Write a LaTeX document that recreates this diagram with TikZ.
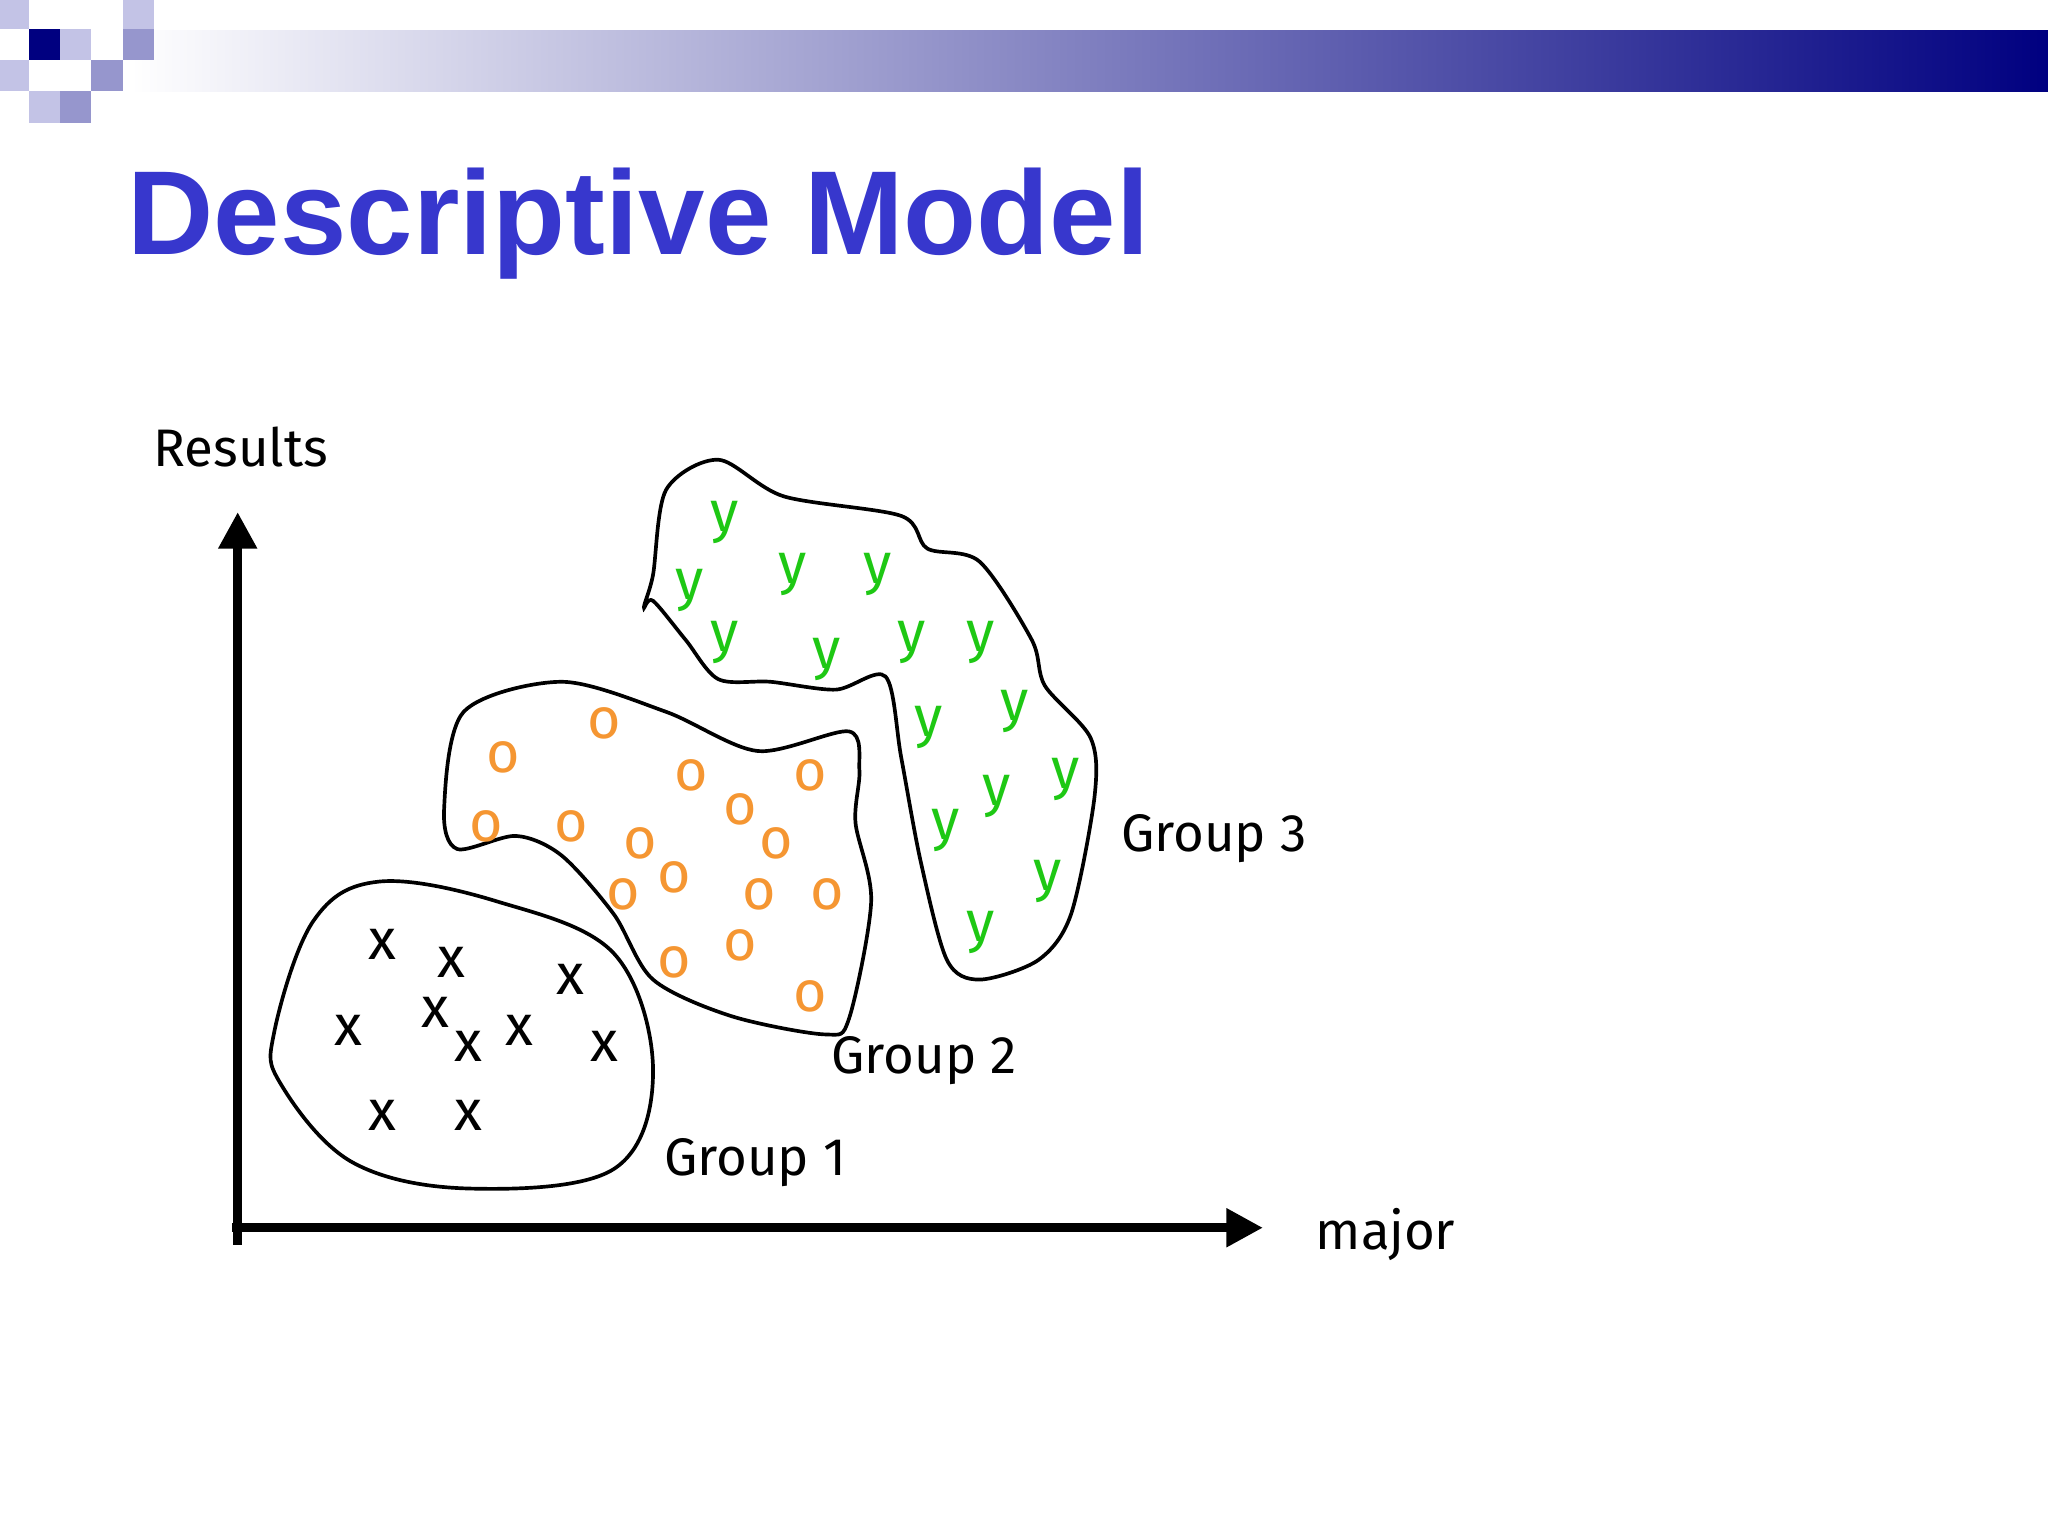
\documentclass[tikz,border=0pt]{standalone}
\usepackage{fontspec}
\setmainfont{Liberation Sans}
\newfontfamily\hand{Fira Sans}
\usetikzlibrary{arrows.meta}
\definecolor{navy}{RGB}{0,0,128}
\definecolor{lav}{RGB}{150,150,205}
\definecolor{lav2}{RGB}{195,195,230}
\definecolor{titleblue}{RGB}{55,55,205}
\definecolor{ocol}{RGB}{245,150,50}
\definecolor{ycol}{RGB}{30,200,20}
\tikzset{
  hw/.style={font=\hand\fontsize{11.5}{13}\selectfont},
  mk/.style={font=\hand\fontsize{12.5}{14}\selectfont,inner sep=0},
  xm/.style={mk,text=black},
  om/.style={mk,text=ocol},
  ym/.style={mk,text=ycol},
  blob/.style={draw=black,line width=0.8pt},
  axis/.style={line width=2pt,-{Triangle[length=0.28cm,width=0.28cm]}}
}
\begin{document}
\begin{tikzpicture}[x=0.01cm,y=-0.01cm]
\useasboundingbox (0,0) rectangle (1568,1176);
\fill[white] (0,0) rectangle (1568,1176);
% banner
\shade[left color=white,right color=navy] (100,23) rectangle (1568,70);
\fill[lav2] (0,0) rectangle (22,22);
\fill[lav2] (94,0) rectangle (118,22);
\fill[lav] (94,22) rectangle (118,46);
\fill[lav2] (46,22) rectangle (70,46);
\fill[lav] (70,46) rectangle (94,70);
\fill[lav2] (0,46) rectangle (22,70);
\fill[lav] (46,70) rectangle (70,94);
\fill[lav2] (22,70) rectangle (46,94);
\fill[navy] (22,22) rectangle (46,46);
% title
\node[anchor=base west,inner sep=0,text=titleblue,font=\bfseries\fontsize{26}{28}\selectfont] (title) at (97,195) {Descriptive Model};
% axes
\coordinate (ytop) at (182,392);
\coordinate (xend) at (967,940);
\draw[axis] (182,953) -- (ytop);
\draw[axis] (178,940) -- (xend);
\node[hw,anchor=west] (res) at (105,342) {Results};
\node[hw,anchor=west] (maj) at (995,945) {major};
% blobs
\draw[blob] plot[smooth cycle,tension=0.6] coordinates {(210,790) (240,705) (290,675) (380,690) (470,730) (500,820) (470,895) (360,910) (270,890) (215,830)};
\draw[blob] plot[smooth cycle,tension=0.5] coordinates {(340,620) (355,545) (430,522) (510,545) (580,575) (650,560) (658,590) (655,630) (667,690) (650,780) (632,792) (560,778) (500,750) (470,700) (430,655) (395,640) (350,650)};
\draw[blob] plot[smooth cycle,tension=0.5] coordinates {(500,440) (510,375) (550,352) (600,380) (690,395) (710,420) (750,430) (790,490) (800,525) (835,565) (838,610) (820,700) (795,735) (750,750) (725,735) (705,660) (690,580) (678,518) (640,528) (590,522) (550,520) (525,490) (500,460) (493,465)};
\node[hw,anchor=west] (g1) at (496,890) {Group 1};
\node[hw,anchor=west] (g2) at (624,812) {Group 2};
\node[hw,anchor=west] (g3) at (846,642) {Group 3};
% markers
\foreach \p [count=\i] in {(293,723),(346,737),(437,750),(267,789),(333,775),(359,801),(398,789),(463,801),(293,854),(359,854)}
  \node[xm] (x\i) at \p {x};
\foreach \p [count=\i] in {(463,554),(385,580),(529,594),(620,594),(567,620),(372,633),(437,633),(490,646),(594,646),(516,672),(477,685),(581,685),(633,685),(567,724),(516,737),(620,763)}
  \node[om] (o\i) at \p {o};
\foreach \p [count=\i] in {(555,400),(528,452),(607,440),(672,440),(555,492),(633,505),(698,492),(751,492),(711,557),(777,545),(816,597),(763,610),(724,636),(802,675),(751,714)}
  \node[ym] (y\i) at \p {y};
\end{tikzpicture}
\end{document}
